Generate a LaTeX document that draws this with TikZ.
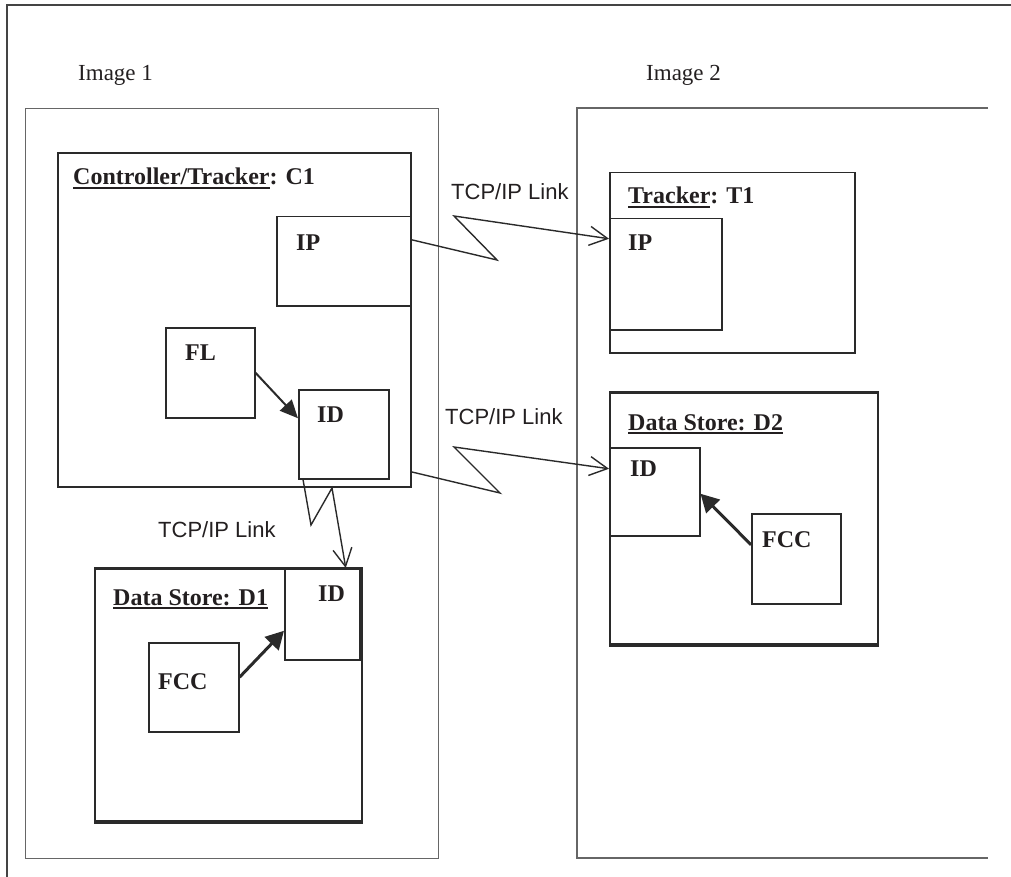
\documentclass[tikz,border=0pt]{standalone}
\usepackage{fontspec}
\setmainfont{Liberation Serif}
\newfontfamily\linkfont{Liberation Sans}
\usetikzlibrary{arrows.meta}
\definecolor{txt}{HTML}{231F20}
\definecolor{boxc}{HTML}{2A2A2A}
\definecolor{imgc}{HTML}{666666}
\definecolor{framec}{HTML}{444444}
\newcommand{\myul}[1]{\setbox0\hbox{#1}\rlap{\rule[-4pt]{\wd0}{2pt}}\box0}
\begin{document}
\begin{tikzpicture}[x=1pt,y=-1pt,
  box/.style={draw=boxc, line width=1.5pt, inner sep=0pt, anchor=north west},
  imgbox/.style={draw=imgc, line width=1.3pt, inner sep=0pt, anchor=north west},
  ttl/.style={font=\fontsize{24}{28}\selectfont\bfseries, anchor=base west, inner sep=0pt, text=txt},
  imglbl/.style={font=\fontsize{23}{27}\selectfont, anchor=base west, inner sep=0pt, text=txt},
  linklbl/.style={font=\linkfont\fontsize{22}{26}\selectfont, anchor=base west, inner sep=0pt, text=txt},
  link/.style={draw=boxc, line width=1.4pt, line join=miter, -{Straight Barb[length=18pt,width=19pt]}},
  dep/.style={draw=boxc, line width=2pt, -{Triangle[length=18pt,width=16pt]}},
  depthick/.style={draw=boxc, line width=3pt, -{Triangle[length=18pt,width=19pt]}}
]
\useasboundingbox (0,0) rectangle (1011,877);
% outer frame
\draw[draw=framec, line width=1.5pt] (1011,5) -- (7,5) -- (7,877);
% image labels
\node[imglbl] (lblimg1) at (78,81) {Image 1};
\node[imglbl] (lblimg2) at (646,81) {Image 2};
% image 1 box
\node[imgbox, minimum width=413pt, minimum height=750pt] (img1) at (25,108) {};
% image 2 box (open on the right)
\coordinate (img2tr) at (988,108);
\coordinate (img2tl) at (577,108);
\coordinate (img2bl) at (577,858);
\coordinate (img2br) at (988,858);
\draw[draw=imgc, line width=1.3pt] (img2tr) -- (img2tl) -- (img2bl) -- (img2br);

% Controller/Tracker C1
\node[box, line width=2pt, minimum width=353pt, minimum height=334pt] (c1) at (57,152) {};
\node[ttl] (c1t) at (73,185) {\myul{Controller/Tracker}: C1};
\node[box, minimum width=134pt, minimum height=89pt] (c1ip) at (276,216) {};
\node[ttl] (c1ipt) at (296,251) {IP};
\node[box, minimum width=89pt, minimum height=90pt] (fl) at (165,327) {};
\node[ttl] (flt) at (185,360) {FL};
\node[box, minimum width=90pt, minimum height=89pt] (c1id) at (298,389) {};
\node[ttl] (c1idt) at (317,422) {ID};
\draw[dep] (fl.east) -- ([yshift=16pt]c1id.west);

% Tracker T1
\node[box, minimum width=245pt, minimum height=180pt] (t1) at (609,172) {};
\node[ttl] (t1t) at (628,204) {\myul{Tracker}: T1};
\node[box, minimum width=112pt, minimum height=111pt] (t1ip) at (609,218) {};
\node[ttl] (t1ipt) at (628,251) {IP};

% Data Store D2
\node[box, line width=2pt, minimum width=268pt, minimum height=251pt] (d2) at (609,392) {};
\draw[boxc, line width=3pt] (d2.north west) -- (d2.north east);
\draw[boxc, line width=3.5pt] (d2.south west) -- (d2.south east);
\node[ttl] (d2t) at (628,430) {\myul{Data Store: D2}};
\node[box, minimum width=90pt, minimum height=88pt] (d2id) at (609,447) {};
\node[ttl] (d2idt) at (630,476) {ID};
\node[box, minimum width=89pt, minimum height=90pt] (d2fcc) at (751,513) {};
\node[ttl] (d2fcct) at (762,547) {FCC};
\draw[depthick] ([yshift=14pt]d2fcc.west) -- ([yshift=-2pt]d2id.east);

% Data Store D1
\node[box, line width=2pt, minimum width=267pt, minimum height=252pt] (d1) at (94,568) {};
\draw[boxc, line width=3pt] (d1.north west) -- (d1.north east);
\draw[boxc, line width=4pt] (d1.south west) -- (d1.south east);
\node[ttl] (d1t) at (113,605) {\myul{Data Store: D1}};
\node[box, minimum width=75pt, minimum height=91pt] (d1id) at (284,568) {};
\node[ttl] (d1idt) at (318,601) {ID};
\node[box, minimum width=90pt, minimum height=89pt] (d1fcc) at (148,642) {};
\node[ttl] (d1fcct) at (158,689) {FCC};
\draw[depthick] ([yshift=10pt]d1fcc.east) -- ([yshift=-16.5pt]d1id.west);

% TCP/IP links
\node[linklbl] (l1t) at (451,200) {TCP/IP Link};
\draw[link] ([yshift=21.5pt]c1ip.east) -- (497,260) -- (454,216) -- ([yshift=35.5pt]t1ip.west);
\node[linklbl] (l2t) at (445,424) {TCP/IP Link};
\draw[link] ([yshift=16pt]c1.south east) -- (500,493) -- (454,447) -- ([yshift=23pt]d2id.west);
\node[linklbl] (l3t) at (158,537) {TCP/IP Link};
\draw[link] ([xshift=5pt]c1id.south west) -- (311,525) -- (332,488) -- ([xshift=23.5pt]d1id.north);
\end{tikzpicture}
\end{document}
